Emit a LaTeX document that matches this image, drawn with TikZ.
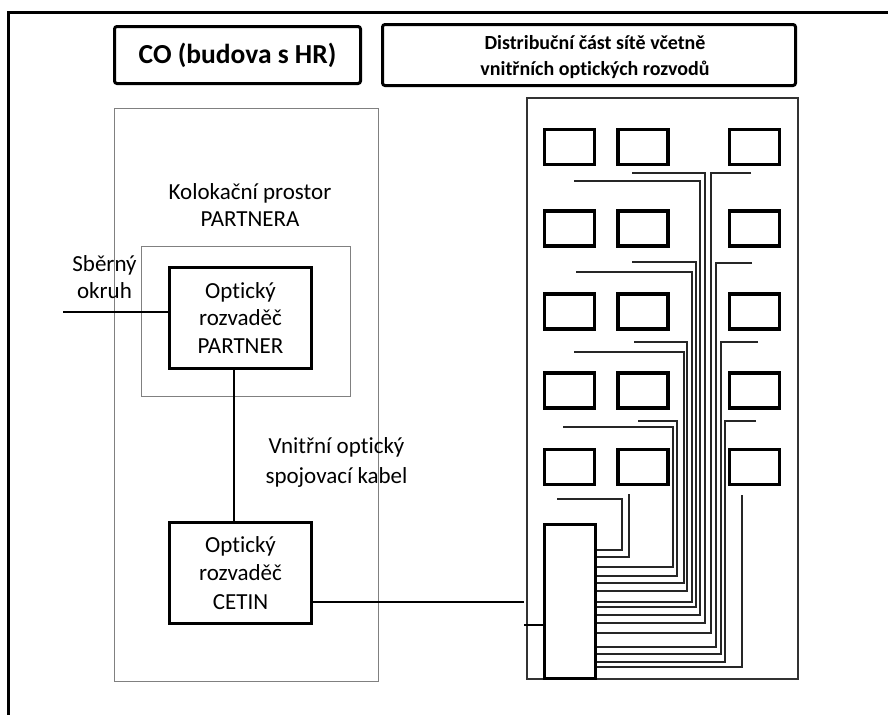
\documentclass[tikz,border=0pt]{standalone}
\usepackage{fontspec}
\setmainfont{Carlito}[Ligatures=NoCommon]
\begin{document}
\begin{tikzpicture}[x=1pt,y=-1pt,
  heavybox/.style={draw=black, line width=3pt, inner sep=0pt, align=center},
  headbox/.style={heavybox, rounded corners=2.5pt},
  thinframe/.style={draw=black!50, line width=1pt, inner sep=0pt},
  smallbox/.style={draw=black, line width=3.2pt, minimum width=50pt, minimum height=35pt, inner sep=0pt},
  wire/.style={draw=black!85, line width=1.3pt},
  label/.style={align=center, inner sep=0pt, font=\fontsize{23}{27.5}\selectfont}]
\useasboundingbox (0,0) rectangle (888,715);

% page frame (open to the right and bottom)
\coordinate (frameTR) at (888,12);
\coordinate (frameTL) at (8,12);
\coordinate (frameBL) at (8,715);
\draw[line width=3pt] (frameTR) -- (frameTL) -- (frameBL);

% headings
\node[headbox, minimum width=246pt, minimum height=57pt,
      font=\bfseries\fontsize{27.5}{33}\selectfont] (co) at (237.5,55) {CO (budova s HR)};
\node[headbox, minimum width=413pt, minimum height=61pt] (distbox) at (589,55) {};
\node[align=center, inner sep=0pt, font=\bfseries\fontsize{20}{26}\selectfont]
      (disttext) at (595,57) {Distribuční část sítě včetně\\vnitřních optických rozvodů};

% central office building
\node[thinframe, minimum width=264pt, minimum height=573pt] (building) at (246,394.5) {};
\node[label] (colotext) at (250,205) {Kolokační prostor\\PARTNERA};
\node[thinframe, minimum width=209pt, minimum height=150pt] (colo) at (245.5,321) {};
\node[heavybox, minimum width=142pt, minimum height=101pt, font=\fontsize{23}{27.5}\selectfont]
      (partner) at (240.5,318) {Optický\\rozvaděč\\PARTNER};
\node[heavybox, minimum width=142pt, minimum height=101pt, font=\fontsize{23}{28.5}\selectfont]
      (cetin) at (240.5,573) {Optický\\rozvaděč\\CETIN};
\node[label] (ringtext) at (104.5,277) {Sběrný\\okruh};
\node[label, font=\fontsize{23}{30}\selectfont] (cabletext) at (336.5,462) {Vnitřní optický\\spojovací kabel};

% building connections
\coordinate (ringEnd) at (63,312);
\draw[line width=1.5pt] (ringEnd) -- (partner.west |- ringEnd);
\draw[line width=1.5pt] ([xshift=-6.5pt]partner.south) -- ([xshift=-6.5pt]cetin.north);
\coordinate (cetinEnd) at (524,602);
\draw[line width=1.5pt] (cetin.east |- cetinEnd) -- (cetinEnd);

% distribution part with apartment outlets
\node[draw=black!80, line width=1.8pt, minimum width=271pt, minimum height=581pt, inner sep=0pt]
      (district) at (662.5,388.5) {};
\foreach \r/\yc in {1/147, 2/228.5, 3/311.5, 4/390.5, 5/467} {
  \node[smallbox] (a\r) at (569.5,\yc) {};
  \node[smallbox] (b\r) at (643,\yc) {};
  \node[smallbox] (c\r) at (754.5,\yc) {};
}
\node[draw=black, line width=3pt, minimum width=51pt, minimum height=154pt, inner sep=0pt]
      (panel) at (570,601) {};
\coordinate (stub) at (524,625);
\draw[line width=1.2pt] (stub) -- (panel.west |- stub);

% riser cables from each outlet down to the panel
\foreach \sx/\sy/\vx/\ey [count=\i] in {
  574/181/700/615, 632/173/705/623, 751/173/711/633,
  576/272/692/602, 632/262/696/607, 752/263/716/647,
  574/352/684/583, 634/342/687/591, 758/342/721/654,
  563/427/673/567, 638/421/677/576, 756/421/725/662,
  557/499/622/550, 629/494/629/557, 742/495/742/667} {
  \coordinate (start\i) at (\sx,\sy);
  \draw[wire] (start\i) -- (\vx,\sy) -- (\vx,\ey) -- (panel.east |- 0,\ey);
}
\end{tikzpicture}
\end{document}
